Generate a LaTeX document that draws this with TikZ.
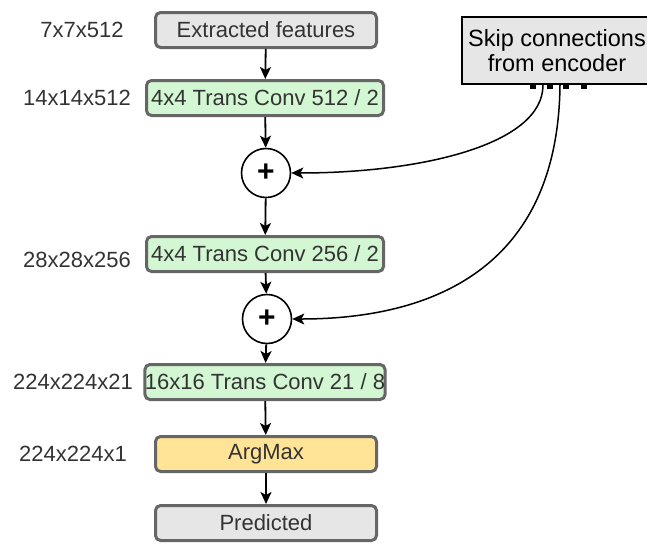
\documentclass[tikz,border=0pt]{standalone}
\usepackage{fontspec}
\setmainfont{Liberation Sans}
\usepackage{tikz}
\usetikzlibrary{arrows.meta}
\definecolor{boxgray}{HTML}{E6E6E6}
\definecolor{boxedge}{HTML}{666666}
\definecolor{boxgreen}{HTML}{D2F7D2}
\definecolor{boxyellow}{HTML}{FFE396}
\definecolor{textgray}{HTML}{333333}
\tikzset{layerbox/.style={shape=rectangle,rounded corners=5pt,draw=boxedge,line width=3pt,
                          text=textgray,inner sep=0pt,minimum height=35pt},
         graybox/.style={layerbox,fill=boxgray,minimum width=221pt},
         greenbox/.style={layerbox,fill=boxgreen,minimum width=237pt},
         argbox/.style={layerbox,fill=boxyellow,minimum width=221pt},
         sumnode/.style={shape=circle,draw,line width=1.6pt,fill=white,minimum size=49pt,inner sep=0pt,
                         font=\fontsize{30}{30}\selectfont},
         sizelabel/.style={text=textgray},
         flow/.style={line width=1.8pt,-{Stealth[length=12pt,width=11pt,inset=3pt]}}}

\begin{document}
\begin{tikzpicture}[x=1pt,y=-1pt,font=\fontsize{22}{26}\selectfont]
            \useasboundingbox (0,0) rectangle (647,544);
            \clip (0,0) rectangle (647,544);
            % setup the nodes
            \node[graybox] (feat) at (266,30) {Extracted features};
            \node[greenbox] (conva) at (265,98) {4x4 Trans Conv 512 / 2};
            \node[sumnode] (suma) at (266,173) {\textbf{+}};
            \node[greenbox] (convb) at (265,254) {4x4 Trans Conv 256 / 2};
            \node[sumnode] (sumb) at (267,319) {\textbf{+}};
            \node[greenbox] (convc) at (265,382) {16x16 Trans Conv 21 / 8};
            \node[argbox] (argmax) at (266,454) {ArgMax};
            \node[graybox] (pred) at (266,523) {Predicted};
            % output sizes
            \node[sizelabel] (sa) at (82,30) {7x7x512};
            \node[sizelabel] (sb) at (77,98) {14x14x512};
            \node[sizelabel] (sc) at (77,260) {28x28x256};
            \node[sizelabel] (sd) at (73,382) {224x224x21};
            \node[sizelabel] (se) at (73,454) {224x224x1};
            % encoder skips
            \draw[line width=1.5pt,fill=boxgray] (462,17) rectangle (680,84);
            \node[align=center,inner sep=0pt,font=\fontsize{23.5}{25}\selectfont] (skip) at (557,51) {Skip connections\\from encoder};
            \foreach \x/\name in {533/pa,550/pb,566/pc,584/pd}
            {
                \node[shape=rectangle,fill=black,minimum width=6pt,minimum height=4pt,inner sep=0pt]
                    (\name) at (\x,87) {};
            }
            \coordinate (ska) at (543,85);
            \coordinate (skb) at (560,85);
            % connect the nodes
            \foreach \from/\to in {feat/conva,conva/suma,suma/convb,convb/sumb,sumb/convc,convc/argmax,argmax/pred}
            {
                \draw[flow] (\from) -- (\to);
            }
            \draw[flow,line width=1.5pt] (ska) .. controls (543,145) and (420,173) .. (suma.east);
            \draw[flow,line width=1.5pt] (skb) .. controls (558,270) and (430,319) .. (sumb.east);
        \end{tikzpicture}
\end{document}
